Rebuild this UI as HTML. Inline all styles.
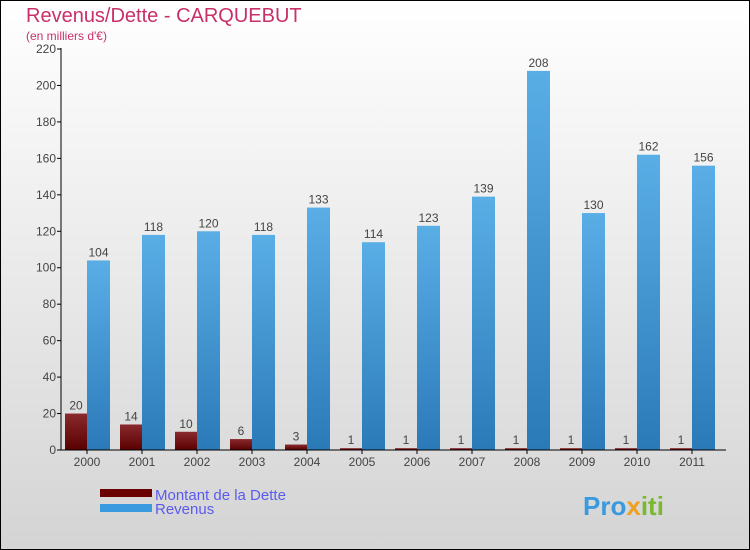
<!DOCTYPE html>
<html><head><meta charset="utf-8"><style>
body{margin:0}
svg{display:block;font-family:"Liberation Sans",sans-serif}
</style></head><body>
<svg id="c" width="750" height="550">
<defs>
<linearGradient id="bg" x1="0" y1="0" x2="0" y2="1"><stop offset="0" stop-color="#ffffff"/><stop offset="1" stop-color="#d4d4d4"/></linearGradient>
<linearGradient id="gd" x1="0" y1="0" x2="0" y2="1"><stop offset="0" stop-color="#8a2a2e"/><stop offset="1" stop-color="#5a0000"/></linearGradient>
<linearGradient id="gb" x1="0" y1="0" x2="0" y2="1"><stop offset="0" stop-color="#5aaee6"/><stop offset="1" stop-color="#2a7ab8"/></linearGradient>
</defs>
<rect x="0.5" y="0.5" width="749" height="549" fill="url(#bg)" stroke="#000"/>
<text x="26" y="22" font-size="20" fill="#c8306a">Revenus/Dette - CARQUEBUT</text>
<text x="26" y="40" font-size="12" fill="#c8306a">(en milliers d'€)</text>
<g id="plot"></g>
<rect x="100" y="489" width="52" height="8" fill="#6a0000"/>
<rect x="100" y="504" width="52" height="8" fill="#3a9ae0"/>
<text x="155" y="500" font-size="15" fill="#5a5aee">Montant de la Dette</text>
<text x="155" y="514" font-size="15" fill="#5a5aee">Revenus</text>
<text x="583" y="515" font-size="26" font-weight="bold" fill="#3a9ae0">Pro<tspan fill="#f0a020">x</tspan><tspan fill="#7ab830">iti</tspan></text>
</svg>
<script>
const categories=["2000","2001","2002","2003","2004","2005","2006","2007","2008","2009","2010","2011"];
const dette=[20,14,10,6,3,1,1,1,1,1,1,1];
const revenus=[104,118,120,118,133,114,123,139,208,130,162,156];
const yTicks=[0,20,40,60,80,100,120,140,160,180,200,220];
const NS="http://www.w3.org/2000/svg";
const g=document.getElementById("plot");
const y=v=>450-v*401/220;
const xg=i=>65+55*i;
function mk(t,a,p){const e=document.createElementNS(NS,t);for(const k in a)e.setAttribute(k,a[k]);(p||g).appendChild(e);return e;}
yTicks.forEach(v=>{
 const l=mk("line",{x1:57,x2:61,y1:y(v),y2:y(v),stroke:"#000"});
 
 
 const t=mk("text",{x:56,y:y(v)+4,"font-size":12,fill:"#444","text-anchor":"end"});t.textContent=v;
 
 
});
categories.forEach((c,i)=>{
 const d=mk("rect",{x:xg(i),y:y(dette[i]),width:22,height:450-y(dette[i]),fill:"url(#gd)"});
 
 
 const b=mk("rect",{x:xg(i)+22,y:y(revenus[i]),width:23,height:450-y(revenus[i]),fill:"url(#gb)"});
 
 
 const t1=mk("text",{x:xg(i)+11,y:y(dette[i])-4,"font-size":12,fill:"#444","text-anchor":"middle"});t1.textContent=dette[i];
 
 
 const t2=mk("text",{x:xg(i)+33.5,y:y(revenus[i])-4,"font-size":12,fill:"#444","text-anchor":"middle"});t2.textContent=revenus[i];
 
 
 const tk=mk("line",{x1:xg(i)+22,x2:xg(i)+22,y1:450,y2:454,stroke:"#000"});
 
 
 const xl=mk("text",{x:xg(i)+22,y:466,"font-size":12,fill:"#444","text-anchor":"middle"});xl.textContent=c;
 
 
});
const ya=mk("line",{x1:61,x2:61,y1:48,y2:450,stroke:"#000"});


const xa=mk("line",{x1:61,x2:726,y1:450,y2:450,stroke:"#000"});


</script>
</body></html>
